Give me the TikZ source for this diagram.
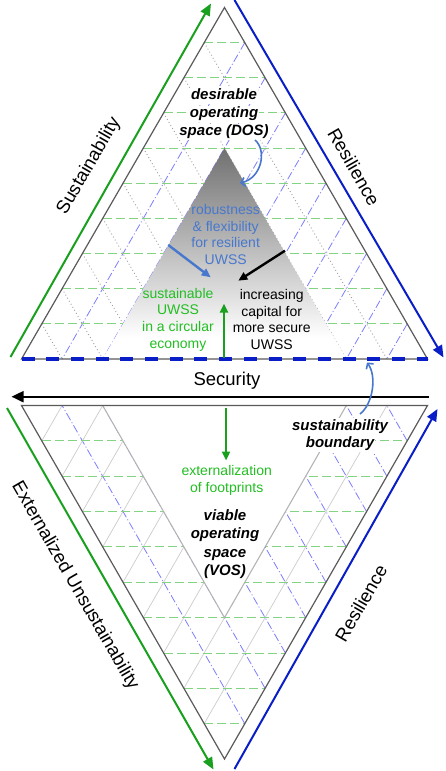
\documentclass[tikz,border=0pt]{standalone}
\usepackage{fontspec}
\setmainfont{Liberation Sans}
\usetikzlibrary{calc,arrows.meta}
\definecolor{gh}{RGB}{130,212,130}
\definecolor{gb}{RGB}{125,125,255}
\definecolor{sgreen}{RGB}{25,160,30}
\definecolor{tgreen}{RGB}{35,190,35}
\definecolor{rblue}{RGB}{10,30,200}
\definecolor{lblue}{RGB}{72,120,205}
\definecolor{edge}{RGB}{90,90,90}
\pgfdeclareverticalshading{dosshade}{100bp}{color(0bp)=(white); color(25bp)=(white); color(30bp)=(white); color(75bp)=(black!56); color(100bp)=(black!56)}
\begin{document}
\begin{tikzpicture}[x=1pt,y=-1pt,
  gridh/.style={draw=gh, line width=0.9pt, dash pattern=on 9pt off 4pt},
  gridg/.style={draw=gray!75, line width=0.9pt, dash pattern=on 0.9pt off 2.6pt},
  gridgb/.style={draw=gray!40, line width=0.7pt},
  gridb/.style={draw=gb, line width=0.8pt, dash pattern=on 8pt off 2.5pt on 1pt off 2.5pt},
  outline/.style={draw=edge, line width=1.2pt, line join=miter},
  axisarrow/.style={line width=2pt, -{Triangle[length=12pt,width=10pt]}},
  innerarrow/.style={line width=2.4pt, -{Triangle[length=9pt,width=8pt]}},
  curvearrow/.style={draw=lblue, line width=1.6pt, -{Straight Barb[length=4pt,width=9pt]}},
  boundary/.style={draw=rblue, line width=3.4pt, dash pattern=on 13pt off 11.7pt},
  axislabel/.style={font=\fontsize{18.5}{22}\selectfont, inner sep=0pt},
  bodytxt/.style={font=\fontsize{14}{16.7}\selectfont, align=center, inner sep=0pt},
  bitl/.style={font=\fontsize{15}{18.3}\selectfont\bfseries\itshape, align=center, inner sep=1pt, text height=11pt, text depth=3.5pt},
]
\useasboundingbox (0,0) rectangle (445,771);
\fill[white] (0,0) rectangle (445,771);

% ---------------- top triangle ----------------
\coordinate (TA) at (21.5,359);
\coordinate (TB) at (427.5,359);
\coordinate (TC) at (224.5,7.5);
\foreach \k in {1,...,9}{
  \pgfmathsetmacro\t{\k/10}
  \pgfmathsetmacro\s{1-\k/10}
  \draw[gridg] ($(TC)!\t!(TA)$) -- ($(TA)!\s!(TB)$);
  \draw[gridb] ($(TC)!\t!(TB)$) -- ($(TB)!\s!(TA)$);
  \draw[gridh] ($(TC)!\t!(TA)$) -- ($(TC)!\t!(TB)$);
}
\coordinate (DL) at ($(TA)!0.2!(TB)$);
\coordinate (DR) at ($(TA)!0.8!(TB)$);
\coordinate (DT) at (224.5,148.1);
\shade[shading=dosshade] (DL) -- (DR) -- (DT) -- cycle;
\draw[outline] (TA) -- (TB) -- (TC) -- cycle;
\draw[boundary] (TA) -- (TB);

% ---------------- bottom triangle ----------------
\coordinate (BA) at (21.5,405.5);
\coordinate (BB) at (427.5,405.5);
\coordinate (BC) at (224.5,759);
\foreach \k in {1,...,9}{
  \pgfmathsetmacro\t{\k/10}
  \pgfmathsetmacro\s{1-\k/10}
  \draw[gridgb] ($(BC)!\t!(BA)$) -- ($(BA)!\s!(BB)$);
  \draw[gridb] ($(BC)!\t!(BB)$) -- ($(BB)!\s!(BA)$);
  \draw[gridh] ($(BA)!\s!(BC)$) -- ($(BB)!\s!(BC)$);
}
\coordinate (VL) at ($(BA)!0.2!(BB)$);
\coordinate (VR) at ($(BA)!0.8!(BB)$);
\coordinate (VT) at (224.5,617.6);
\fill[white] (VL) -- (VR) -- (VT) -- cycle;
\draw[draw=gray!60, line width=1pt] (VL) -- (VT) -- (VR);
\draw[outline] (BA) -- (BB) -- (BC) -- cycle;

% ---------------- side arrows ----------------
\coordinate (g1s) at (10.5,357);
\coordinate (g1e) at (211,3.5);
\draw[axisarrow, sgreen] (g1s) -- (g1e);
\coordinate (b1s) at (234.5,0);
\coordinate (b1e) at (443.5,357.5);
\draw[axisarrow, rblue] (b1s) -- (b1e);
\coordinate (sas) at (428.5,396.7);
\coordinate (sae) at (11.5,396.7);
\draw[line width=2pt, -{Triangle[length=12pt,width=11pt]}] (sas) -- (sae);
\coordinate (g2s) at (7,408);
\coordinate (g2e) at (213.5,769.5);
\draw[axisarrow, sgreen] (g2s) -- (g2e);
\coordinate (b2s) at (234.5,769);
\coordinate (b2e) at (437.5,409);
\draw[axisarrow, rblue] (b2s) -- (b2e);

% ---------------- axis labels ----------------
\node[axislabel, rotate=60] (sus) at (89,166) {Sustainability};
\node[axislabel, rotate=-60] (res1) at (354,167) {Resilience};
\node[axislabel] (sec) at (227,381) {Security};
\node[axislabel, rotate=-60] (ext) at (75,586) {Externalized Unsustainability};
\node[axislabel, rotate=60] (res2) at (361,603) {Resilience};

% ---------------- texts in top triangle ----------------
\node[bitl, fill=white] (dos1) at (224,96) {desirable};
\node[bitl, fill=white] (dos2) at (224,113.8) {operating};
\node[bitl, fill=white] (dos3) at (224,131.8) {space (DOS)};
\node[bodytxt, text=lblue] (rob) at (225.7,234.5) {robustness\\\& flexibility\\for resilient\\UWSS};
\node[bodytxt, text=tgreen] (sust) at (178,319.5) {sustainable\\UWSS\\in a circular\\economy};
\node[bodytxt] (incr) at (271.7,319.5) {increasing\\capital for\\more secure\\UWSS};

\coordinate (c1s) at (255,140);
\coordinate (c1e) at (240,183);
\draw[curvearrow] (c1s) .. controls (267,150) and (262,178) .. (c1e);
\coordinate (ba1) at (168.3,245);
\coordinate (ba2) at (210.7,277.3);
\draw[innerarrow, lblue] (ba1) -- (ba2);
\coordinate (ka1) at (285,250.7);
\coordinate (ka2) at (238.3,280.7);
\draw[innerarrow, black] (ka1) -- (ka2);
\coordinate (ga1) at (224,358);
\coordinate (ga2) at (224,303.5);
\draw[innerarrow, sgreen] (ga1) -- (ga2);

% ---------------- texts in bottom triangle ----------------
\node[bitl, fill=white] (sb1) at (340,426.7) {sustainability};
\node[bitl, fill=white] (sb2) at (340,443.3) {boundary};
\coordinate (c2s) at (360,414);
\coordinate (c2e) at (367,362.5);
\draw[curvearrow] (c2s) .. controls (373,404) and (377,376) .. (c2e);
\coordinate (gd1) at (226,407.5);
\coordinate (gd2) at (226,460.5);
\draw[innerarrow, sgreen] (gd1) -- (gd2);
\node[bodytxt, text=tgreen] (extf) at (226.7,480.5) {externalization\\of footprints};
\node[bitl, text height=, text depth=] (vos) at (225,544) {viable\\operating\\space\\(VOS)};
\end{tikzpicture}
\end{document}
